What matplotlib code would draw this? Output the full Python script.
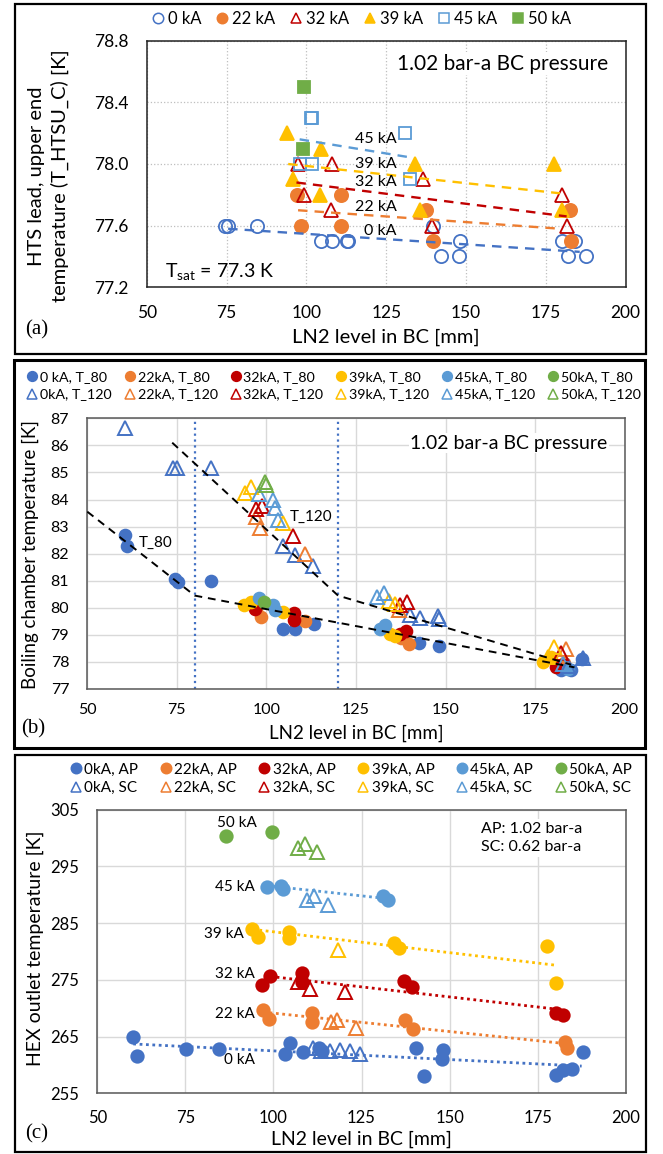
import numpy as np
import matplotlib as mpl
import matplotlib.pyplot as plt
from matplotlib.lines import Line2D
from matplotlib.patches import Rectangle

W, H = 663, 1154

BLUE = "#4472C4"
ORANGE = "#ED7D31"
DRED = "#C00000"
GOLD = "#FFC000"
LBLUE = "#5B9BD5"
GREEN = "#70AD47"
COLORS = [BLUE, ORANGE, DRED, GOLD, LBLUE, GREEN]

# ---------------- panel (a): HTS lead upper end temperature ----------------
A_LABELS = ["0 kA", "22 kA", "32 kA", "39 kA", "45 kA", "50 kA"]
A_X = [
    [74.5, 75.5, 84.4, 104.7, 108.1, 112.6, 113.1, 139.7, 142.3, 147.9, 148.0, 179.9, 184.0, 182.0, 187.7],
    [97.1, 98.4, 110.7, 110.7, 137.4, 139.5, 182.7, 183.0],
    [97.4, 107.9, 99.2, 107.6, 136.6, 139.2, 179.9, 181.7],
    [93.8, 104.7, 95.9, 104.2, 134.0, 135.5, 177.5, 180.2],
    [101.3, 101.7, 97.9, 101.9, 130.8, 132.6],
    [99.2, 99.0],
]
A_Y = [
    [77.6, 77.6, 77.6, 77.5, 77.5, 77.5, 77.5, 77.6, 77.4, 77.4, 77.5, 77.5, 77.5, 77.4, 77.4],
    [77.8, 77.6, 77.8, 77.6, 77.7, 77.5, 77.7, 77.5],
    [78.0, 78.0, 77.8, 77.7, 77.9, 77.6, 77.8, 77.6],
    [78.2, 78.1, 77.9, 77.8, 78.0, 77.7, 78.0, 77.7],
    [78.3, 78.3, 78.0, 78.0, 78.2, 77.9],
    [78.5, 78.1],
]
# trend line end points (x0, x1), (y0, y1) for 0, 22, 32, 39, 45 kA
A_TREND_X = [(75.5, 185.6), (97.4, 179.4), (96.9, 181.5), (94.3, 179.4), (97.9, 133.4)]
A_TREND_Y = [(77.58, 77.43), (77.70, 77.58), (77.88, 77.66), (78.00, 77.81), (78.16, 78.04)]
A_TREND_LABELS = ["0 kA", "22 kA", "32 kA", "39 kA", "45 kA"]
A_TREND_LABEL_Y = [77.565, 77.72, 77.885, 78.0, 78.16]

# ---------------- panel (b): boiling chamber temperature ----------------
B_LABELS = ["0 kA", "22kA", "32kA", "39kA", "45kA", "50kA"]
B80_X = [
    [60.4, 61.0, 74.6, 75.3, 84.6, 104.7, 108.1, 113.2, 142.5, 148.1, 182.2, 185.0, 188.0],
    [97.0, 98.6, 110.7, 137.5, 139.7, 183.1],
    [96.7, 107.6, 107.6, 137.3, 139.0, 180.8],
    [93.7, 95.8, 104.5, 134.5, 135.9, 177.1, 179.5],
    [98.0, 101.9, 102.3, 131.7, 133.1, 184.1],
    [99.3],
]
B80_Y = [
    [82.7, 82.3, 81.05, 80.95, 81.0, 79.2, 79.2, 79.4, 78.7, 78.6, 77.7, 77.7, 78.1],
    [79.95, 79.65, 79.5, 78.9, 78.65, 77.95],
    [79.95, 79.8, 79.55, 79.05, 79.15, 77.8],
    [80.1, 80.2, 79.85, 79.05, 78.95, 78.0, 78.2],
    [80.35, 80.1, 79.9, 79.2, 79.35, 77.75],
    [80.2],
]
B120_X = [
    [60.4, 73.9, 75.0, 84.6, 104.7, 108.0, 113.1, 140.1, 142.8, 148.1, 147.8, 184.1, 188.3],
    [97.0, 98.1, 110.7, 136.9, 183.6],
    [97.0, 98.9, 107.5, 137.3, 139.2, 182.2],
    [93.9, 95.8, 104.5, 134.3, 135.9, 180.3, 178.5],
    [98.0, 101.9, 102.4, 103.3, 131.0, 132.7, 182.7],
    [99.5, 99.8],
]
B120_Y = [
    [86.65, 85.15, 85.15, 85.15, 82.3, 81.95, 81.55, 79.72, 79.63, 79.6, 79.7, 77.86, 78.15],
    [83.35, 82.95, 82.0, 79.9, 78.48],
    [83.65, 83.75, 82.65, 80.1, 80.2, 78.32],
    [84.25, 84.45, 83.15, 80.25, 80.15, 78.55, 78.17],
    [84.2, 84.0, 83.7, 83.25, 80.4, 80.55, 77.93],
    [84.65, 84.55],
]
B_FIT80_X = [50.0, 80.0, 186.0]
B_FIT80_Y = [83.55, 80.45, 77.8]
B_FIT120_X = [73.7, 120.0, 185.0]
B_FIT120_Y = [86.1, 80.45, 77.9]
B_VLINES = [80, 120]

# ---------------- panel (c): HEX outlet temperature ----------------
C_LABELS = ["0kA", "22kA", "32kA", "39kA", "45kA", "50kA"]
CAP_X = [
    [60.2, 61.2, 75.1, 84.6, 103.2, 104.7, 108.3, 113.0, 113.7, 140.4, 142.7, 148.2, 147.9, 180.2, 182.3, 184.7, 188.0],
    [97.0, 98.7, 110.9, 110.9, 137.3, 139.7, 182.8, 183.2],
    [96.7, 99.1, 108.1, 108.1, 137.0, 139.4, 180.2, 182.3],
    [93.8, 95.7, 104.5, 104.3, 134.2, 135.7, 177.6, 180.2],
    [98.3, 102.1, 102.6, 131.0, 132.6],
    [86.6, 99.6],
]
CAP_Y = [
    [264.9, 261.5, 262.8, 262.8, 261.9, 263.8, 262.2, 263.0, 262.4, 262.9, 258.1, 262.6, 261.0, 258.2, 259.1, 259.2, 262.2],
    [269.7, 268.1, 269.2, 267.5, 267.9, 266.4, 264.1, 262.9],
    [274.1, 275.6, 276.2, 274.7, 274.8, 273.7, 269.2, 268.8],
    [283.9, 282.5, 283.4, 282.4, 281.5, 280.6, 280.9, 274.5],
    [291.4, 291.6, 291.0, 289.8, 289.0],
    [300.4, 301.0],
]
CSC_X = [
    [111.3, 113.6, 116.0, 118.8, 121.7, 124.5],
    [116.2, 118.1, 123.3],
    [107.1, 110.4, 120.3],
    [118.4],
    [109.4, 111.5, 115.5],
    [107.0, 109.1, 112.4],
]
CSC_Y = [
    [262.9, 262.4, 262.5, 262.6, 262.5, 262.0],
    [267.5, 267.9, 266.6],
    [274.6, 273.4, 272.8],
    [280.3],
    [289.0, 289.8, 288.2],
    [298.2, 299.0, 297.6],
]
C_TREND_X = [(60.2, 187.5), (98.9, 182.3), (99.1, 180.9), (94.2, 179.9), (98.3, 132.6)]
C_TREND_Y = [(263.7, 259.8), (269.2, 263.8), (275.6, 269.8), (283.9, 277.6), (291.6, 289.3)]
C_TEXT = ["0 kA", "22 kA", "32 kA", "39 kA", "45 kA", "50 kA"]
C_TEXT_X = [94.7, 94.7, 94.7, 91.6, 94.8, 95.3]
C_TEXT_Y = [260.8, 269.0, 276.1, 283.1, 291.4, 302.6]

X_TICKS = [50, 75, 100, 125, 150, 175, 200]


mpl.rcParams.update({
    "font.family": ["Lato", "DejaVu Sans"],
    "axes.linewidth": 1.0,
    "xtick.major.size": 0,
    "ytick.major.size": 0,
})

fig = plt.figure(figsize=(W / 100, H / 100), dpi=100)


def px_axes(l, t, r, b):
    return fig.add_axes([l / W, 1 - b / H, (r - l) / W, (b - t) / H])


def frame(l, t, r, b, lw=1.6):
    fig.patches.append(Rectangle((l / W, 1 - b / H), (r - l) / W, (b - t) / H,
                                 transform=fig.transFigure, fill=False, ec="black", lw=lw))


def ftext(x, y, s, **kw):
    return fig.text(x / W, 1 - y / H, s, **kw)


def pts(ax, x, y, color, marker, filled, ms, mew=1.3, zorder=3):
    ax.plot(x, y, ls="none", marker=marker, ms=ms, mfc=color if filled else "none",
            mec=color, mew=mew, zorder=zorder)


def handle(color, marker, filled, ms, mew=1.1):
    return Line2D([], [], ls="none", marker=marker, ms=ms, mfc=color if filled else "none",
                  mec=color, mew=mew)


def style_axes(ax, xlim, ylim, yticks, yfmt, tick_fs, grid_kw, spine_color, xpad=13):
    ax.set_xlim(*xlim)
    ax.set_ylim(*ylim)
    ax.set_xticks(X_TICKS)
    ax.set_xticklabels([str(t) for t in X_TICKS])
    ax.set_yticks(yticks)
    ax.set_yticklabels([yfmt.format(t) for t in yticks])
    ax.tick_params(labelsize=tick_fs, length=0, pad=13)
    ax.tick_params(axis="x", pad=xpad)
    ax.grid(True, **grid_kw)
    ax.set_axisbelow(True)
    for sp in ax.spines.values():
        sp.set_color(spine_color)
        sp.set_linewidth(1.1)


# ======================= panel (a) =======================
frame(15, 3.5, 646, 354)
ax = px_axes(146.7, 40.7, 625.7, 287.3)
style_axes(ax, (50, 200), (77.2, 78.8), [77.2, 77.6, 78.0, 78.4, 78.8], "{:.1f}", 12.5,
           dict(color="#BFBFBF", ls=":", lw=0.9), "#222222")

a_marker = ["o", "o", "^", "^", "s", "s"]
a_filled = [False, True, False, True, False, True]
a_ms = [9.5, 9.5, 9.5, 9.5, 8.5, 8.5]
for i in range(6):
    pts(ax, A_X[i], A_Y[i], COLORS[i], a_marker[i], a_filled[i], a_ms[i])
for i in range(5):
    ax.plot(A_TREND_X[i], A_TREND_Y[i], color=COLORS[i], ls=(0, (4, 3)), lw=1.7, zorder=4)
    ax.text(128.3, A_TREND_LABEL_Y[i], A_TREND_LABELS[i], ha="right", va="center",
            fontsize=11.5, zorder=5)
ax.text(128.3, 78.65, "1.02 bar-a BC pressure", ha="left", va="center", fontsize=15,
        bbox=dict(fc="white", ec="none", pad=1))
ax.text(55.7, 77.295, r"T$_{\mathregular{sat}}$ = 77.3 K", ha="left", va="center", fontsize=14)

h_a = [handle(COLORS[i], a_marker[i], a_filled[i], 7.5 if a_marker[i] != "s" else 7) for i in range(6)]
fig.legend(h_a, A_LABELS, ncol=6, loc="center", bbox_to_anchor=(360 / W, 1 - 18.5 / H),
           frameon=False, fontsize=12, handletextpad=0.1, columnspacing=0.75, handlelength=1.0,
           borderaxespad=0)

ftext(48.5, 176, "HTS lead, upper end\ntemperature (T_HTSU_C) [K]", rotation=90,
      ha="center", va="center", fontsize=14.5, linespacing=1.35)
ftext(386, 337, "LN2 level in BC [mm]", ha="center", va="center", fontsize=14.5)
ftext(37, 330, "(a)", ha="center", va="center", fontsize=15, family="Liberation Serif")

# ======================= panel (b) =======================
frame(13.5, 360.5, 644.5, 748, lw=2.2)
ax = px_axes(87.3, 418.3, 624.7, 689)
style_axes(ax, (50, 200), (77, 87), list(range(77, 88)), "{:d}", 11.5,
           dict(color="#D9D9D9", ls="-", lw=1.0), "#595959", xpad=10)
for xv in B_VLINES:
    ax.axvline(xv, color=BLUE, ls=":", lw=1.6, zorder=2)
for i in range(6):
    pts(ax, B80_X[i], B80_Y[i], COLORS[i], "o", True, 8.5)
for i in range(6):
    pts(ax, B120_X[i], B120_Y[i], COLORS[i], "^", False, 9.5, mew=1.4)
ax.plot(B_FIT80_X, B_FIT80_Y, color="black", ls=(0, (4, 3)), lw=1.4, zorder=5)
ax.plot(B_FIT120_X, B_FIT120_Y, color="black", ls=(0, (4, 3)), lw=1.4, zorder=5)
ax.text(64.5, 82.41, "T_80", ha="left", va="center", fontsize=11, zorder=6)
ax.text(106.6, 83.37, "T_120", ha="left", va="center", fontsize=11, zorder=6)
ax.text(140.1, 86.08, "1.02 bar-a BC pressure", ha="left", va="center", fontsize=14,
        bbox=dict(fc="white", ec="none", pad=1), zorder=6)

h_b, l_b = [], []
for i in range(6):
    h_b += [handle(COLORS[i], "o", True, 7), handle(COLORS[i], "^", False, 7.5)]
    l_b += [f"{B_LABELS[i]}, T_80", f"{B_LABELS[i].replace(' ', '')}, T_120"]
fig.legend(h_b, l_b, ncol=6, loc="center", bbox_to_anchor=(333 / W, 1 - 386 / H),
           frameon=False, fontsize=10.3, handletextpad=0.05, columnspacing=0.75, handlelength=1.0,
           borderaxespad=0, labelspacing=0.35)

ftext(30, 555, "Boiling chamber temperature [K]", rotation=90, ha="center", va="center",
      fontsize=13.5)
ftext(356, 733, "LN2 level in BC [mm]", ha="center", va="center", fontsize=13.5)
ftext(33, 729, "(b)", ha="center", va="center", fontsize=15, family="Liberation Serif")

# ======================= panel (c) =======================
frame(15, 754.5, 646, 1152)
ax = px_axes(97.3, 809.7, 625.7, 1093.3)
style_axes(ax, (50, 200), (255, 305), [255, 265, 275, 285, 295, 305], "{:d}", 12,
           dict(color="#D9D9D9", ls="-", lw=1.0), "#595959", xpad=12)
for i in range(5):
    ax.plot(C_TREND_X[i], C_TREND_Y[i], color=COLORS[i], ls=(0, (1, 1.3)), lw=2.0, zorder=2)
for i in range(6):
    pts(ax, CAP_X[i], CAP_Y[i], COLORS[i], "o", True, 9)
for i in range(6):
    pts(ax, CSC_X[i], CSC_Y[i], COLORS[i], "^", False, 10, mew=1.4)
for i in range(6):
    ax.text(C_TEXT_X[i], C_TEXT_Y[i], C_TEXT[i], ha="right", va="center", fontsize=11, zorder=6)
ax.text(159, 300.0, "AP: 1.02 bar-a\nSC: 0.62 bar-a", ha="left", va="center", fontsize=11.5,
        linespacing=1.4, bbox=dict(fc="white", ec="none", pad=2), zorder=6)

h_c, l_c = [], []
for i in range(6):
    h_c += [handle(COLORS[i], "o", True, 7.5), handle(COLORS[i], "^", False, 7.5)]
    l_c += [f"{C_LABELS[i]}, AP", f"{C_LABELS[i]}, SC"]
fig.legend(h_c, l_c, ncol=6, loc="center", bbox_to_anchor=(350 / W, 1 - 778.7 / H),
           frameon=False, fontsize=11, handletextpad=0.05, columnspacing=1.3, handlelength=1.0,
           borderaxespad=0, labelspacing=0.3)

ftext(35, 948, "HEX outlet temperature [K]", rotation=90, ha="center", va="center", fontsize=14)
ftext(361, 1139, "LN2 level in BC [mm]", ha="center", va="center", fontsize=14)
ftext(37, 1134, "(c)", ha="center", va="center", fontsize=15, family="Liberation Serif")

fig.savefig("out.png", dpi=100)
